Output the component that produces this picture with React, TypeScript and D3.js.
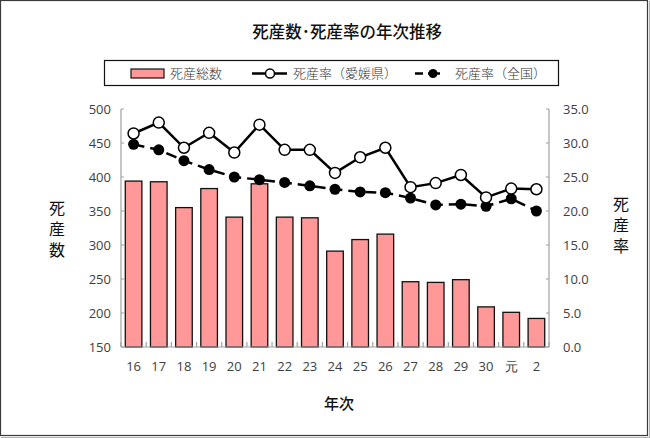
import React from "react";
import * as d3 from "d3";

const categories = ["16","17","18","19","20","21","22","23","24","25","26","27","28","29","30","元","2"];
const stillbirths = [394,393,355,383,341,390,341,340,291,308,316,246,245,249,209,201,192];
const rateEhime = [31.4,33.0,29.3,31.5,28.6,32.7,29.0,29.0,25.6,27.9,29.3,23.5,24.1,25.3,22.0,23.3,23.2];
const rateNational = [29.8,29.0,27.4,26.1,25.0,24.6,24.2,23.7,23.2,22.8,22.7,21.9,20.9,21.0,20.7,21.8,20.0];
const leftTicks = [150,200,250,300,350,400,450,500];
const rightTicks = [0,5,10,15,20,25,30,35];

const W = 650, H = 438;
const L = 121, R = 549, T = 109, B = 347;
const numFont = "'Open Sans', 'Noto Sans', sans-serif";
const jpFont = "'Noto Sans CJK JP', sans-serif";

export default function App() {
  const x = d3.scaleBand<string>().domain(categories).range([L, R]).paddingInner(0).paddingOuter(0);
  const bw = x.bandwidth();
  const barW = bw * 0.66;
  const yL = d3.scaleLinear().domain([150, 500]).range([B, T]);
  const yR = d3.scaleLinear().domain([0, 35]).range([B, T]);
  const cx = (c: string) => (x(c) as number) + bw / 2;
  const lineE = d3.line<number>().x((_, i) => cx(categories[i])).y(d => yR(d));
  const lineN = d3.line<number>().x((_, i) => cx(categories[i])).y(d => yR(d));

  const vStyle: React.CSSProperties = { writingMode: "vertical-rl" as any, letterSpacing: "5px" };

  return (
    <svg width={W} height={H} style={{ position: "absolute", left: 0, top: 0, background: "#fefffe" }}>
      <rect x={0.5} y={0.5} width={647} height={435} fill="#fefffe" stroke="#3a3a3a" strokeWidth={1.2} />
      <line x1={1} y1={437.5} x2={650} y2={437.5} stroke="#b0b0b0" />
      <line x1={649.5} y1={1} x2={649.5} y2={438} stroke="#b0b0b0" />

      <text x={347} y={38} textAnchor="middle" fontFamily={jpFont} fontSize={16.5} fontWeight={500} fill="#111">死産数･死産率の年次推移</text>

      {/* legend */}
      <rect x={104.5} y={60.5} width={454} height={25} fill="#fff" stroke="#111" strokeWidth={1.2} />
      <rect x={131} y={69} width={33} height={9} fill="#ff9999" stroke="#111" strokeWidth={1.2} />
      <text x={170} y={78} fontFamily={jpFont} fontSize={13} fontWeight={300} fill="#333">死産総数</text>
      <line x1={252} y1={73.5} x2={287} y2={73.5} stroke="#000" strokeWidth={2.5} />
      <circle cx={270} cy={73.5} r={4.5} fill="#fff" stroke="#000" strokeWidth={1.5} />
      <text x={293} y={78} fontFamily={jpFont} fontSize={13} fontWeight={300} fill="#333">死産率（愛媛県）</text>
      <line x1={415} y1={73.5} x2={423} y2={73.5} stroke="#000" strokeWidth={2.5} />
      <line x1={428} y1={73.5} x2={440} y2={73.5} stroke="#000" strokeWidth={2.5} />
      <circle cx={433} cy={73.5} r={4.5} fill="#000" />
      <text x={455} y={78} fontFamily={jpFont} fontSize={13} fontWeight={300} fill="#333">死産率（全国）</text>

      {/* bars */}
      {stillbirths.map((v, i) => (
        <rect key={i} x={cx(categories[i]) - barW / 2} y={yL(v)} width={barW} height={B - yL(v)}
          fill="#ff9999" stroke="#111" strokeWidth={1.3} />
      ))}

      {/* axes */}
      <line x1={L} y1={T} x2={L} y2={B} stroke="#a0a0a0" strokeWidth={1.2} />
      <line x1={R} y1={T} x2={R} y2={B} stroke="#a0a0a0" strokeWidth={1.2} />
      <line x1={L} y1={B} x2={R} y2={B} stroke="#a0a0a0" strokeWidth={1.2} />
      {categories.map((c, i) => (
        <line key={"t" + i} x1={x(c) as number} y1={B} x2={x(c) as number} y2={B - 5} stroke="#a0a0a0" strokeWidth={1.2} />
      ))}
      <line x1={R} y1={B} x2={R} y2={B - 5} stroke="#a0a0a0" strokeWidth={1.2} />
      {leftTicks.map(t => (
        <g key={"l" + t}>
          <line x1={L} x2={L + 3} y1={yL(t)} y2={yL(t)} stroke="#a0a0a0" />
          <text x={111} y={yL(t) + 4.5} textAnchor="end" fontFamily={numFont} fontSize={13} fill="#404040">{t}</text>
        </g>
      ))}
      {rightTicks.map(t => (
        <g key={"r" + t}>
          <line x1={R - 3} x2={R} y1={yR(t)} y2={yR(t)} stroke="#a0a0a0" />
          <text x={563} y={yR(t) + 4.5} textAnchor="start" fontFamily={numFont} fontSize={13} fill="#404040">{t.toFixed(1)}</text>
        </g>
      ))}
      {categories.map((c, i) => (
        <text key={"c" + i} x={cx(c)} y={371} textAnchor="middle" fontFamily={numFont} fontSize={13} fill="#404040">{c}</text>
      ))}

      {/* lines */}
      <path d={lineN(rateNational) || ""} fill="none" stroke="#000" strokeWidth={2.5} strokeDasharray="11,6" />
      {rateNational.map((v, i) => (
        <circle key={"n" + i} cx={cx(categories[i])} cy={yR(v)} r={5.5} fill="#000" />
      ))}
      <path d={lineE(rateEhime) || ""} fill="none" stroke="#000" strokeWidth={2.5} />
      {rateEhime.map((v, i) => (
        <circle key={"e" + i} cx={cx(categories[i])} cy={yR(v)} r={5.5} fill="#fff" stroke="#000" strokeWidth={1.5} />
      ))}

      {/* axis titles */}
      <text x={57} y={200} textAnchor="start" fontFamily={jpFont} fontSize={16} fill="#111" style={vStyle}>死産数</text>
      <text x={621} y={196} textAnchor="start" fontFamily={jpFont} fontSize={16} fill="#111" style={vStyle}>死産率</text>
      <text x={339} y={409} textAnchor="middle" fontFamily={jpFont} fontSize={15} fontWeight={500} fill="#111">年次</text>
    </svg>
  );
}
